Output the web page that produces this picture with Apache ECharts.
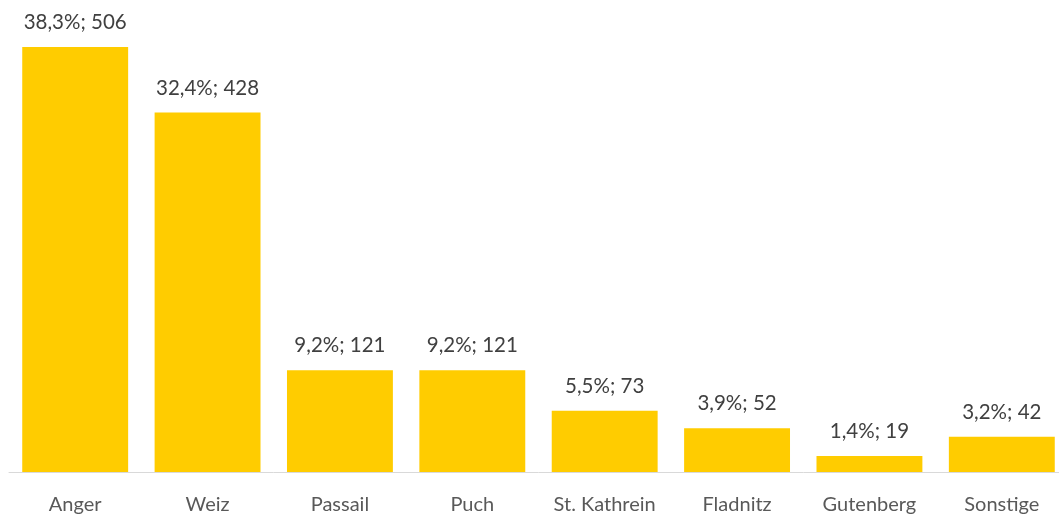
<!DOCTYPE html>
<html>
<head>
<meta charset="utf-8">
<script src="https://cdn.jsdelivr.net/npm/echarts@6/dist/echarts.min.js"></script>
<style>
  html, body { margin: 0; padding: 0; background: #fff; overflow: hidden; }
  #chart { width: 1068px; height: 521px; }
</style>
</head>
<body>
<div id="chart"></div>
<script>
const categories = ["Anger", "Weiz", "Passail", "Puch", "St. Kathrein", "Fladnitz", "Gutenberg", "Sonstige"];
const counts = [506, 428, 121, 121, 73, 52, 19, 42];
const shares = ["38,3%", "32,4%", "9,2%", "9,2%", "5,5%", "3,9%", "1,4%", "3,2%"];

const chart = echarts.init(document.getElementById("chart"));
chart.setOption({
  animation: false,
  textStyle: { fontFamily: "Lato" },
  grid: { left: 9, top: 47, right: 0, bottom: 49, containLabel: false },
  xAxis: {
    type: "category",
    data: categories,
    axisTick: { show: false },
    axisLine: { lineStyle: { color: "#D9D9D9", width: 1 } },
    axisLabel: { color: "#595959", fontSize: 20, margin: 23, interval: 0, fontFamily: "Lato" }
  },
  yAxis: {
    type: "value",
    min: 0,
    max: 506,
    show: false,
    splitLine: { show: false }
  },
  series: [{
    type: "bar",
    data: counts,
    barWidth: "80%",
    itemStyle: { color: "#FFCC00" },
    label: {
      show: true,
      position: "top",
      distance: 14,
      color: "#404040",
      fontSize: 20.5,
      fontFamily: "Lato",
      formatter: function (p) {
        return shares[p.dataIndex] + "; " + p.value;
      }
    }
  }]
});
</script>
</body>
</html>
